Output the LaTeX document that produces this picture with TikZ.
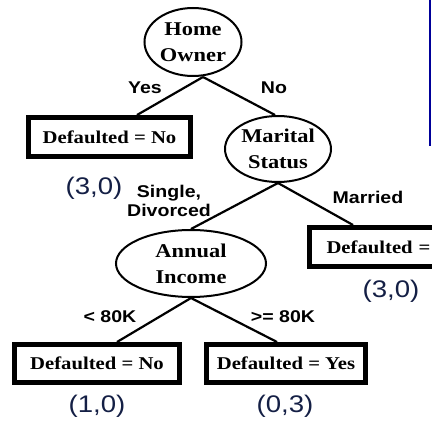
\documentclass[tikz,border=0pt]{standalone}
\usepackage{fontspec}
\usetikzlibrary{shapes.geometric}
\newfontfamily\treefont[FakeStretch=1.15]{Liberation Serif}
\newfontfamily\edgefont[FakeStretch=1.15]{Liberation Sans}
\definecolor{slideblue}{rgb}{0,0,0.6}
\definecolor{countcol}{rgb}{0.08,0.12,0.27}

\begin{document}
\begin{tikzpicture}[x=1pt,y=-1pt,
    attr/.style={draw,ellipse,line width=2pt,inner sep=0pt,align=center,
        font=\treefont\bfseries\fontsize{19.5}{26}\selectfont},
    leaf/.style={draw,rectangle,line width=5pt,inner sep=0pt,
        font=\treefont\bfseries\fontsize{18}{20}\selectfont},
    edge/.style={line width=2.2pt},
    cond/.style={anchor=base,align=center,font=\edgefont\bfseries\fontsize{17}{19}\selectfont},
    count/.style={anchor=base,text=countcol,font=\edgefont\fontsize{24}{26}\selectfont}]
    \useasboundingbox (0,0) rectangle (432,425);
    \clip (0,0) rectangle (432,425);

    % slide edge
    \draw[slideblue,line width=2.5pt] (430,0) -- (430,146);

    % tests
    \node[attr,minimum width=97pt,minimum height=68pt] (home) at (193,42) {Home\\Owner};
    \node[attr,minimum width=106pt,minimum height=66pt] (marital) at (278,149) {Marital\\Status};
    \node[attr,minimum width=150pt,minimum height=67pt] (income) at (191,263.5) {Annual\\Income};

    % leaves
    \node[leaf,minimum width=162pt,minimum height=39pt] (leafyes) at (109.5,137) {Defaulted = No};
    \node[leaf,minimum height=39pt,inner xsep=17pt,text width=128pt,align=left] (leafmarried) at (390.5,247) {Defaulted =};
    \node[leaf,minimum width=165pt,minimum height=38pt] (leafless) at (97,363.5) {Defaulted = No};
    \node[leaf,minimum width=159pt,minimum height=38pt] (leafmore) at (286,363.5) {Defaulted = Yes};

    \draw[edge] ([xshift=10pt]home.south) -- ([xshift=27.5pt]leafyes.north);
    \draw[edge] ([xshift=10pt]home.south) -- ([xshift=-3pt]marital.north);
    \draw[edge] (marital.south) -- (income.north);
    \draw[edge] (marital.south) -- ([xshift=-37.5pt]leafmarried.north);
    \draw[edge] (income.south) -- ([xshift=20pt]leafless.north);
    \draw[edge] (income.south) -- ([xshift=-9pt]leafmore.north);

    % branch labels
    \node[cond] (lyes) at (145,94) {Yes};
    \node[cond] (lno) at (274,94) {No};
    \node[cond,anchor=center] (lsingle) at (169,201) {Single,\\Divorced};
    \node[cond] (lmarried) at (368,204) {Married};
    \node[cond] (lless) at (110,323) {< 80K};
    \node[cond] (lmore) at (283,323) {>= 80K};

    % class counts
    \node[count] (cyes) at (94,195) {(3,0)};
    \node[count] (cmarried) at (391,298) {(3,0)};
    \node[count] (cless) at (97,413) {(1,0)};
    \node[count] (cmore) at (285,413) {(0,3)};
\end{tikzpicture}
\end{document}
